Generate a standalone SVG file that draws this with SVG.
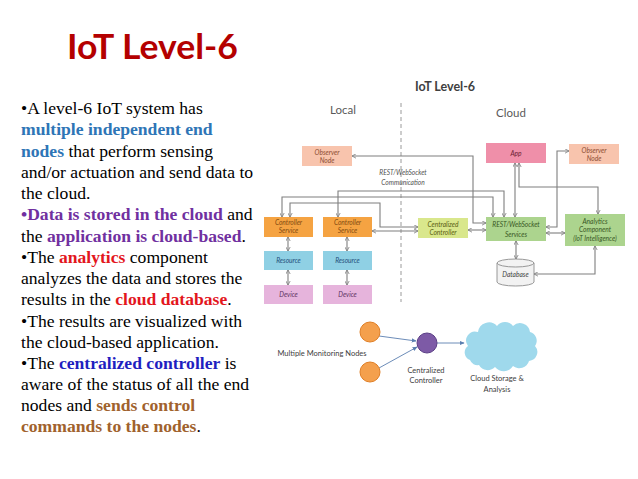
<svg xmlns="http://www.w3.org/2000/svg" width="638" height="479" viewBox="0 0 638 479">
<defs>
<marker id="ar" viewBox="0 0 8 8" refX="7" refY="4" markerWidth="5" markerHeight="5" markerUnits="userSpaceOnUse" orient="auto-start-reverse">
<path d="M0.5,0.5 L7,4 L0.5,7.5" fill="none" stroke="#7f7f7f" stroke-width="1.3"/>
</marker>
<marker id="ab" viewBox="0 0 8 8" refX="7" refY="4" markerWidth="5" markerHeight="5" markerUnits="userSpaceOnUse" orient="auto">
<path d="M0,0.5 L8,4 L0,7.5 z" fill="#5b7fb0"/>
</marker>
</defs>
<style>
.p{font-family:"Liberation Serif","Times New Roman",serif;font-size:17.6px;fill:#000}
.b{font-weight:bold}
.bl{fill:#2e75b6}.pu{fill:#7030a0}.rd{fill:#e3161d}.db{fill:#1f1fc0}.br{fill:#a0622d}
.n{font-family:Lato,"Open Sans",sans-serif;font-style:italic;font-size:6.6px;text-anchor:middle}
.lb{font-family:Lato,"Open Sans",sans-serif;font-size:7.5px;fill:#404040;text-anchor:middle}
.c{fill:none;stroke:#7f7f7f;stroke-width:1.1;marker-start:url(#ar);marker-end:url(#ar)}
.bc{fill:none;stroke:#5b7fb0;stroke-width:0.9;marker-end:url(#ab)}
</style>
<rect width="638" height="479" fill="#fff"/>
<text x="67" y="59" font-family="Lato,'Open Sans',sans-serif" font-weight="bold" font-size="34.5" fill="#b40000" textLength="171" lengthAdjust="spacingAndGlyphs">IoT Level-6</text>
<g id="paragraph">
<text class="p" x="21" y="114">•A level-6 IoT system has</text>
<text class="p" x="21" y="135"><tspan class="b bl">multiple independent end</tspan></text>
<text class="p" x="21" y="156.5"><tspan class="b bl">nodes</tspan> that perform sensing</text>
<text class="p" x="21" y="177.5">and/or actuation and send data to</text>
<text class="p" x="21" y="198.5">the cloud.</text>
<text class="p" x="21" y="220"><tspan class="b pu">•Data is stored in the cloud</tspan> and</text>
<text class="p" x="21" y="241.5">the <tspan class="b pu">application is cloud-based</tspan>.</text>
<text class="p" x="21" y="263">•The <tspan class="b rd">analytics</tspan> component</text>
<text class="p" x="21" y="284">analyzes the data and stores the</text>
<text class="p" x="21" y="305">results in the <tspan class="b rd">cloud database</tspan>.</text>
<text class="p" x="21" y="326.5">•The results are visualized with</text>
<text class="p" x="21" y="347.5">the cloud-based application.</text>
<text class="p" x="21" y="369">•The <tspan class="b db">centralized controller</tspan> is</text>
<text class="p" x="21" y="390">aware of the status of all the end</text>
<text class="p" x="21" y="411">nodes and <tspan class="b br">sends control</tspan></text>
<text class="p" x="21" y="432"><tspan class="b br">commands to the nodes</tspan>.</text>
</g>
<g id="diagram-labels">
<text x="415" y="91" font-family="Lato,'Open Sans',sans-serif" font-weight="bold" font-size="12.5" fill="#404040">IoT Level-6</text>
<text x="343" y="114" font-family="Lato,'Open Sans',sans-serif" font-size="11.5" fill="#595959" text-anchor="middle">Local</text>
<text x="511" y="117" font-family="Lato,'Open Sans',sans-serif" font-size="11.5" fill="#595959" text-anchor="middle">Cloud</text>
<line x1="401" y1="103" x2="401" y2="302" stroke="#9a9a9a" stroke-width="1" stroke-dasharray="4,3"/>
<text class="n" x="403" y="174.5" fill="#505050" font-size="7.2">REST/WebSocket</text>
<text class="n" x="403" y="184.5" fill="#505050" font-size="7.2">Communication</text>
</g>
<g id="connectors">
<polyline class="c" points="352,156 473,156 473,223 486,223"/>
<polyline class="c" points="338,217 338,191 504,191 504,217"/>
<polyline class="c" points="282,217 282,197 493,197 493,217"/>
<polyline class="c" points="290,217 290,203 380,203 380,227 418,227"/>
<line class="c" x1="372" y1="231" x2="418" y2="231"/>
<line class="c" x1="468" y1="230" x2="486" y2="230"/>
<line class="c" x1="515" y1="217" x2="515" y2="163"/>
<polyline class="c" points="519,163 519,187 598,187 598,214"/>
<polyline class="c" points="546,227 557,227 557,151 569,151"/>
<line class="c" x1="546" y1="233" x2="565" y2="233"/>
<line class="c" x1="516" y1="241" x2="516" y2="259"/>
<polyline class="c" points="534,274 595,274 595,246"/>
<line class="c" x1="288" y1="237" x2="288" y2="251"/>
<line class="c" x1="288" y1="270" x2="288" y2="285"/>
<line class="c" x1="347" y1="237" x2="347" y2="251"/>
<line class="c" x1="347" y1="270" x2="347" y2="285"/>
<line class="bc" x1="379" y1="336" x2="416" y2="341"/>
<line class="bc" x1="379" y1="368" x2="417" y2="347"/>
<line class="bc" x1="437" y1="343" x2="464" y2="343"/>
</g>
<g id="observer-local"><rect x="302" y="146" width="50" height="20" fill="#f8c4ad"/><text class="n" x="327" y="154.5" fill="#8a4a30">Observer</text><text class="n" x="327" y="162.5" fill="#8a4a30">Node</text></g>
<g id="app"><rect x="486" y="143" width="60" height="20" fill="#ef8fa9"/><text class="n" x="516" y="155.5" fill="#6b2033">App</text></g>
<g id="observer-cloud"><rect x="569" y="144" width="50" height="20" fill="#f8c4ad"/><text class="n" x="594" y="152.5" fill="#8a4a30">Observer</text><text class="n" x="594" y="160.5" fill="#8a4a30">Node</text></g>
<g id="controller-1"><rect x="264" y="217" width="49" height="20" fill="#f5a342"/><text class="n" x="288.5" y="225" fill="#7f4a10">Controller</text><text class="n" x="288.5" y="233" fill="#7f4a10">Service</text></g>
<g id="controller-2"><rect x="323" y="217" width="49" height="20" fill="#f5a342"/><text class="n" x="347.5" y="225" fill="#7f4a10">Controller</text><text class="n" x="347.5" y="233" fill="#7f4a10">Service</text></g>
<g id="resource-1"><rect x="264" y="251" width="49" height="19" fill="#8fd0e4"/><text class="n" x="288.5" y="263" fill="#1f4e79">Resource</text></g>
<g id="resource-2"><rect x="323" y="251" width="49" height="19" fill="#8fd0e4"/><text class="n" x="347.5" y="263" fill="#1f4e79">Resource</text></g>
<g id="device-1"><rect x="264" y="285" width="49" height="19" fill="#e6b4dc"/><text class="n" x="288.5" y="297" fill="#5c3060">Device</text></g>
<g id="device-2"><rect x="323" y="285" width="49" height="19" fill="#e6b4dc"/><text class="n" x="347.5" y="297" fill="#5c3060">Device</text></g>
<g id="centralized-controller"><rect x="418" y="218" width="50" height="20" fill="#d9e78c"/><text class="n" x="443" y="226.5" fill="#5a6010">Centralized</text><text class="n" x="443" y="234.5" fill="#5a6010">Controller</text></g>
<g id="rest-services"><rect x="486" y="217" width="60" height="24" fill="#acd48e"/><text class="n" x="516" y="227" fill="#375623">REST/WebSocket</text><text class="n" x="516" y="236.5" fill="#375623">Services</text></g>
<g id="analytics"><rect x="565" y="214" width="60" height="32" fill="#acd48e"/><text class="n" x="595" y="223.5" fill="#375623">Analytics</text><text class="n" x="595" y="232" fill="#375623">Component</text><text class="n" x="595" y="240.5" fill="#375623">(IoT Intelligence)</text></g>
<g id="database"><path d="M497,263 L497,282 A18.5,4 0 0 0 534,282 L534,263" fill="#f2f2f2" stroke="#8c8c8c" stroke-width="0.9"/><ellipse cx="515.5" cy="263" rx="18.5" ry="4" fill="#f2f2f2" stroke="#8c8c8c" stroke-width="0.9"/><text class="n" x="515.5" y="277" fill="#404040" font-size="7">Database</text></g>
<g id="monitor-node-1"><circle cx="370" cy="332" r="10" fill="#f4a04d" stroke="#e07f26"/></g>
<g id="monitor-node-2"><circle cx="370" cy="372" r="10" fill="#f4a04d" stroke="#e07f26"/></g>
<g id="central-node"><circle cx="427" cy="343" r="10" fill="#7d5aa6" stroke="#5b3f86"/><text class="lb" x="426" y="372.5">Centralized</text><text class="lb" x="426" y="382.5">Controller</text></g>
<g id="cloud"><path d="M470,360 a8,8 0 0 1 -2,-14 a9,9 0 0 1 10,-14 a11,11 0 0 1 19,-6 a10,10 0 0 1 16,0 a10,10 0 0 1 17,6 a9,9 0 0 1 5,14 a9,9 0 0 1 -6,15 a10,10 0 0 1 -16,5 a11,11 0 0 1 -18,1 a10,10 0 0 1 -16,-2 a8,8 0 0 1 -9,-5 z" fill="#9fd9ec"/><text class="lb" x="497" y="381">Cloud Storage &amp;</text><text class="lb" x="497" y="392">Analysis</text></g>
<text class="lb" x="322" y="356">Multiple Monitoring Nodes</text>
</svg>
